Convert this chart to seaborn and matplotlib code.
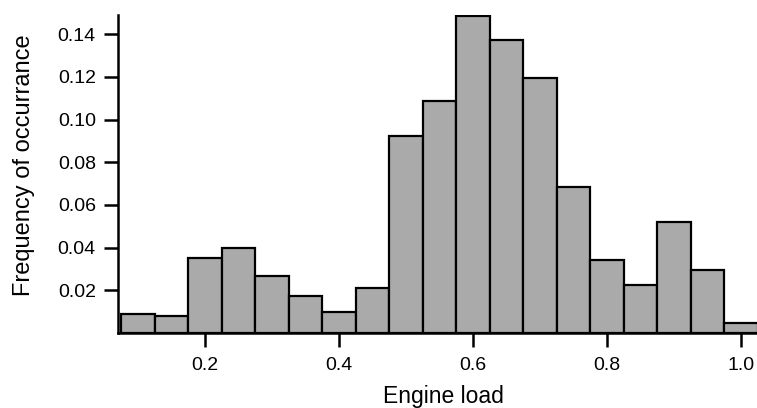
import matplotlib
matplotlib.use("Agg")
import matplotlib.pyplot as plt
import numpy as np
import seaborn as sns

# bin centres of engine load and the relative frequency
load_centers = [0.10, 0.15, 0.20, 0.25, 0.30, 0.35, 0.40, 0.45, 0.50, 0.55,
                0.60, 0.65, 0.70, 0.75, 0.80, 0.85, 0.90, 0.95, 1.00]
frequency = [0.0088, 0.0080, 0.0352, 0.0396, 0.0269, 0.0173, 0.0098, 0.0211,
             0.0924, 0.1088, 0.1486, 0.1375, 0.1197, 0.0683, 0.0341, 0.0227,
             0.0519, 0.0294, 0.0045]
x_ticks = [0.2, 0.4, 0.6, 0.8, 1.0]
y_ticks = [0.02, 0.04, 0.06, 0.08, 0.10, 0.12, 0.14]

sns.set_theme(style="ticks")
plt.rcParams["font.family"] = ["Liberation Sans", "DejaVu Sans"]
plt.rcParams["text.color"] = "black"
plt.rcParams["axes.labelcolor"] = "black"

fig = plt.figure(figsize=(7.57, 4.08), dpi=100)
ax = fig.add_axes([0.1559, 0.1838, 0.8441, 0.7794])

sns.histplot(
    x=load_centers,
    weights=frequency,
    binwidth=0.05,
    binrange=(0.075, 1.025),
    stat="count",
    color="#aaaaaa",
    edgecolor="black",
    linewidth=1.6,
    alpha=1.0,
    ax=ax,
)

ax.set_xlim(0.070, 1.024)
ax.set_ylim(0, 0.149)
ax.set_xticks(x_ticks)
ax.set_xticklabels([f"{t:.1f}" for t in x_ticks])
ax.set_yticks(y_ticks)
ax.set_yticklabels([f"{t:.2f}" for t in y_ticks])
ax.tick_params(axis="both", direction="out", length=10, width=1.8,
               labelsize=14, colors="black")
ax.tick_params(axis="x", pad=7)
ax.tick_params(axis="y", pad=6)

for side in ["top", "right"]:
    ax.spines[side].set_visible(False)
for side in ["left", "bottom"]:
    ax.spines[side].set_linewidth(1.8)
    ax.spines[side].set_color("black")

ax.set_xlabel("Engine load", fontsize=16.5)
ax.set_ylabel("Frequency of occurrance", fontsize=17)
ax.xaxis.set_label_coords(0.509, -0.162)
ax.yaxis.set_label_coords(-0.13, 0.528)

fig.savefig("out.png", dpi=100)
